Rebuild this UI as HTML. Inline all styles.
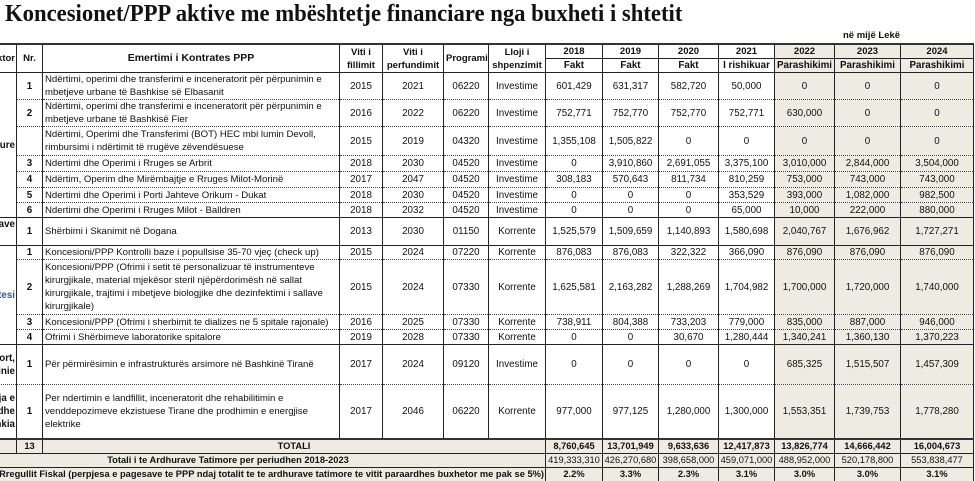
<!DOCTYPE html>
<html><head><meta charset="utf-8"><style>
body{margin:0;width:975px;height:481px;overflow:hidden;background:#fff;position:relative;font-family:"Liberation Sans",sans-serif;color:#111}
.title{position:absolute;left:5px;top:1px;font-family:"Liberation Serif",serif;font-weight:bold;font-size:24px;white-space:nowrap;transform-origin:0 0;transform:scaleX(0.945)}
.unit{position:absolute;left:843px;top:30px;font-size:9.5px;font-weight:bold}
.wrap{position:absolute;left:0;top:0;width:975px;height:481px;overflow:hidden}
table{position:absolute;left:-90px;top:43px;width:1063px;border-collapse:collapse;table-layout:fixed;font-size:9.8px}
td{border-left:1px solid #222;border-right:1px solid #222;padding:0 2px;text-align:center;white-space:nowrap;overflow:hidden;line-height:13px}
tr.s td{border-top:1.5px solid #222}
tr.d td{border-top:1px dotted #444}
tr.h td{font-weight:bold;font-size:9.5px;border-top:2px solid #333}
tr.h2 td{border-top:1px solid #222}
td.l{text-align:left;font-size:9.6px}
td.c0{text-align:right;font-weight:bold;border-top:none!important;padding-right:1px}
td.sh{background:#eeebe2}
td.b{font-weight:bold}
tr.last td{border-bottom:2px solid #333}
tr.t td{border-top:2px solid #333}
tr.t td, tr.last td{font-size:9.3px;padding:0 1px}
</style></head><body>
<div class="title">Koncesionet/PPP aktive me mbështetje financiare nga buxheti i shtetit</div>
<div class="unit">në mijë Lekë</div>
<div class="wrap">
<table>
<colgroup><col style="width:106px"><col style="width:26px"><col style="width:297px"><col style="width:43px"><col style="width:61px"><col style="width:45px"><col style="width:57px"><col style="width:57px"><col style="width:56px"><col style="width:60px"><col style="width:56px"><col style="width:60px"><col style="width:66px"><col style="width:73px"></colgroup>
<tr class="h" style="height:13px"><td rowspan="2" class="c0" style="border-top:2px solid #333!important">Sektor</td><td rowspan="2">Nr.</td><td rowspan="2" style="font-size:10.5px">Emertimi i Kontrates PPP</td><td rowspan="2" style="line-height:13px">Viti i<br>fillimit</td><td rowspan="2">Viti i<br>perfundimit</td><td rowspan="2">Programi</td><td rowspan="2">Lloji i<br>shpenzimit</td><td>2018</td><td>2019</td><td>2020</td><td>2021</td><td class="sh">2022</td><td class="sh">2023</td><td class="sh">2024</td></tr>
<tr class="h2" style="height:13px;font-weight:bold"><td class="b">Fakt</td><td class="b">Fakt</td><td class="b">Fakt</td><td class="b">I rishikuar</td><td class="sh b">Parashikimi</td><td class="sh b">Parashikimi</td><td class="sh b">Parashikimi</td></tr>
<tr class="s" style="height:27px"><td rowspan="7" class="c0" style="border-top:1.5px solid #222!important">Infrastrukture</td><td class="b">1</td><td class="l">Ndërtimi, operimi dhe transferimi e inceneratorit për përpunimin e<br>mbetjeve urbane të Bashkise së Elbasanit</td><td>2015</td><td>2021</td><td>06220</td><td>Investime</td><td>601,429</td><td>631,317</td><td>582,720</td><td>50,000</td><td class="sh">0</td><td class="sh">0</td><td class="sh">0</td></tr>
<tr class="d" style="height:27px"><td class="b">2</td><td class="l">Ndërtimi, operimi dhe transferimi e inceneratorit për përpunimin e<br>mbetjeve urbane të Bashkisë Fier</td><td>2016</td><td>2022</td><td>06220</td><td>Investime</td><td>752,771</td><td>752,770</td><td>752,770</td><td>752,771</td><td class="sh">630,000</td><td class="sh">0</td><td class="sh">0</td></tr>
<tr class="d" style="height:29px"><td></td><td class="l">Ndërtimi, Operimi dhe Transferimi (BOT) HEC mbi lumin Devoll,<br>rimbursimi i ndërtimit të rrugëve zëvendësuese</td><td>2015</td><td>2019</td><td>04320</td><td>Investime</td><td>1,355,108</td><td>1,505,822</td><td>0</td><td>0</td><td class="sh">0</td><td class="sh">0</td><td class="sh">0</td></tr>
<tr class="d" style="height:16px"><td class="b">3</td><td class="l">Ndertimi dhe Operimi i Rruges se Arbrit</td><td>2018</td><td>2030</td><td>04520</td><td>Investime</td><td>0</td><td>3,910,860</td><td>2,691,055</td><td>3,375,100</td><td class="sh">3,010,000</td><td class="sh">2,844,000</td><td class="sh">3,504,000</td></tr>
<tr class="d" style="height:16px"><td class="b">4</td><td class="l">Ndërtim, Operim dhe Mirëmbajtje e Rruges Milot-Morinë</td><td>2017</td><td>2047</td><td>04520</td><td>Investime</td><td>308,183</td><td>570,643</td><td>811,734</td><td>810,259</td><td class="sh">753,000</td><td class="sh">743,000</td><td class="sh">743,000</td></tr>
<tr class="d" style="height:15px"><td class="b">5</td><td class="l">Ndertimi dhe Operimi i Porti Jahteve Orikum - Dukat</td><td>2018</td><td>2030</td><td>04520</td><td>Investime</td><td>0</td><td>0</td><td>0</td><td>353,529</td><td class="sh">393,000</td><td class="sh">1,082,000</td><td class="sh">982,500</td></tr>
<tr class="d" style="height:15px"><td class="b">6</td><td class="l">Ndertimi dhe Operimi i Rruges Milot - Balldren</td><td>2018</td><td>2032</td><td>04520</td><td>Investime</td><td>0</td><td>0</td><td>0</td><td>65,000</td><td class="sh">10,000</td><td class="sh">222,000</td><td class="sh">880,000</td></tr>
<tr class="s" style="height:28px"><td class="c0" style="border-top:1.5px solid #222!important;vertical-align:top">Doganave</td><td class="b">1</td><td class="l">Shërbimi i Skanimit në Dogana</td><td>2013</td><td>2030</td><td>01150</td><td>Korrente</td><td>1,525,579</td><td>1,509,659</td><td>1,140,893</td><td>1,580,698</td><td class="sh">2,040,767</td><td class="sh">1,676,962</td><td class="sh">1,727,271</td></tr>
<tr class="s" style="height:14px"><td rowspan="4" class="c0" style="border-top:1.5px solid #222!important;color:#2a5aa0">Shendetesi</td><td class="b">1</td><td class="l">Koncesioni/PPP Kontrolli baze i popullsise 35-70 vjeç (check up)</td><td>2015</td><td>2024</td><td>07220</td><td>Korrente</td><td>876,083</td><td>876,083</td><td>322,322</td><td>366,090</td><td class="sh">876,090</td><td class="sh">876,090</td><td class="sh">876,090</td></tr>
<tr class="d" style="height:55px"><td class="b">2</td><td class="l">Koncesioni/PPP (Ofrimi i setit të personalizuar të instrumenteve<br>kirurgjikale, material mjekësor steril njëpërdorimësh në sallat<br>kirurgjikale, trajtimi i mbetjeve biologjike dhe dezinfektimi i sallave<br>kirurgjikale)</td><td>2015</td><td>2024</td><td>07330</td><td>Korrente</td><td>1,625,581</td><td>2,163,282</td><td>1,288,269</td><td>1,704,982</td><td class="sh">1,700,000</td><td class="sh">1,720,000</td><td class="sh">1,740,000</td></tr>
<tr class="d" style="height:15px"><td class="b">3</td><td class="l">Koncesioni/PPP (Ofrimi i sherbimit te dializes ne 5 spitale rajonale)</td><td>2016</td><td>2025</td><td>07330</td><td>Korrente</td><td>738,911</td><td>804,388</td><td>733,203</td><td>779,000</td><td class="sh">835,000</td><td class="sh">887,000</td><td class="sh">946,000</td></tr>
<tr class="d" style="height:15px"><td class="b">4</td><td class="l">Ofrimi i Shërbimeve laboratorike spitalore</td><td>2019</td><td>2028</td><td>07330</td><td>Korrente</td><td>0</td><td>0</td><td>30,670</td><td>1,280,444</td><td class="sh">1,340,241</td><td class="sh">1,360,130</td><td class="sh">1,370,223</td></tr>
<tr class="s" style="height:40px"><td class="c0" style="border-top:1.5px solid #222!important">Arsimi, Sport,<br>Rinie</td><td class="b">1</td><td class="l">Për përmirësimin e infrastrukturës arsimore në Bashkinë Tiranë</td><td>2017</td><td>2024</td><td>09120</td><td>Investime</td><td>0</td><td>0</td><td>0</td><td>0</td><td class="sh">685,325</td><td class="sh">1,515,507</td><td class="sh">1,457,309</td></tr>
<tr class="d" style="height:54px"><td class="c0" style="border-top:1px dotted #444!important">Mbrojtja e<br>Mjedisit dhe<br>Bashkia</td><td class="b">1</td><td class="l">Per ndertimin e landfillit, inceneratorit dhe rehabilitimin e<br>venddepozimeve ekzistuese Tirane dhe prodhimin e energjise<br>elektrike</td><td>2017</td><td>2046</td><td>06220</td><td>Korrente</td><td>977,000</td><td>977,125</td><td>1,280,000</td><td>1,300,000</td><td class="sh">1,553,351</td><td class="sh">1,739,753</td><td class="sh">1,778,280</td></tr>
<tr class="t" style="height:14px;font-weight:bold"><td class="c0" style="border-top:2px solid #333!important;background:#eeebe2"></td><td class="b" style="background:#eeebe2">13</td><td colspan="5" class="b" style="background:#eeebe2">TOTALI</td><td class="b sh">8,760,645</td><td class="b sh">13,701,949</td><td class="b sh">9,633,636</td><td class="b sh">12,417,873</td><td class="b sh">13,826,774</td><td class="b sh">14,666,442</td><td class="b sh">16,004,673</td></tr>
<tr class="t" style="height:13px"><td colspan="7" class="b" style="background:#eeebe2;border-top:1px solid #222">Totali i te Ardhurave Tatimore per periudhen 2018-2023</td><td class="sh" style="border-top:1px solid #222">419,333,310</td><td class="sh" style="border-top:1px solid #222">426,270,680</td><td class="sh" style="border-top:1px solid #222">398,658,000</td><td class="sh" style="border-top:1px solid #222">459,071,000</td><td class="sh" style="border-top:1px solid #222">488,952,000</td><td class="sh" style="border-top:1px solid #222">520,178,800</td><td class="sh" style="border-top:1px solid #222">553,838,477</td></tr>
<tr class="last" style="height:13px"><td colspan="7" class="b" style="text-align:right;background:#eeebe2;border-top:1px solid #222">Kriteri i Rregullit Fiskal (perpjesa e pagesave te PPP ndaj totalit te te ardhurave tatimore te vitit paraardhes buxhetor me pak se 5%)</td><td class="b sh" style="border-top:1px solid #222">2.2%</td><td class="b sh" style="border-top:1px solid #222">3.3%</td><td class="b sh" style="border-top:1px solid #222">2.3%</td><td class="b sh" style="border-top:1px solid #222">3.1%</td><td class="b sh" style="border-top:1px solid #222">3.0%</td><td class="b sh" style="border-top:1px solid #222">3.0%</td><td class="b sh" style="border-top:1px solid #222">3.1%</td></tr>
</table>
</div>
</body></html>
